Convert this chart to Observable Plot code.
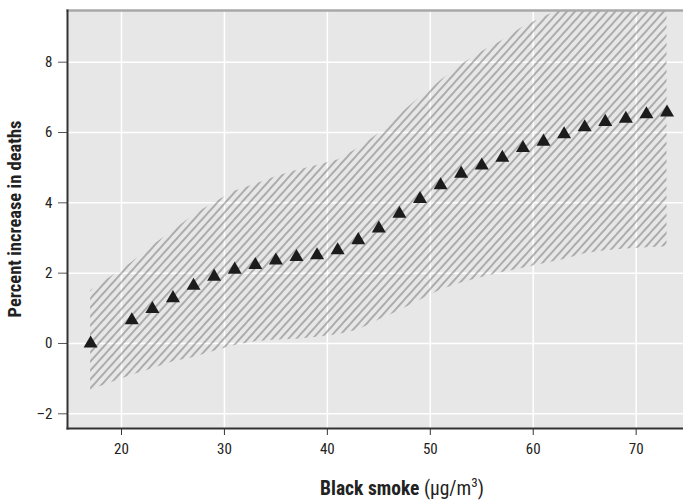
<!DOCTYPE html>
<html><head><meta charset="utf-8">
<script src="https://cdn.jsdelivr.net/npm/d3@7"></script>
<script src="https://cdn.jsdelivr.net/npm/@observablehq/plot@0.6"></script>
<style>body{margin:0;background:#fff;}</style>
</head><body><div id="chart"></div>
<script>
const smoke  = [17, 21, 23, 25, 27, 29, 31, 33, 35, 37, 39, 41, 43, 45, 47, 49, 51, 53, 55, 57, 59, 61, 63, 65, 67, 69, 71, 73];
const effect = [0.0, 0.66, 0.98, 1.29, 1.64, 1.90, 2.10, 2.23, 2.36, 2.46, 2.51, 2.65, 2.94, 3.27, 3.69, 4.11, 4.50, 4.83, 5.06, 5.28, 5.56, 5.74, 5.95, 6.15, 6.30, 6.39, 6.52, 6.57];
const lower  = [-1.32, -0.90, -0.72, -0.52, -0.40, -0.22, -0.06, 0.05, 0.10, 0.12, 0.18, 0.25, 0.38, 0.67, 0.93, 1.23, 1.52, 1.72, 1.88, 2.02, 2.14, 2.27, 2.39, 2.55, 2.64, 2.69, 2.72, 2.75];
const upper  = [1.50, 2.30, 2.78, 3.20, 3.65, 4.00, 4.33, 4.53, 4.74, 4.92, 5.06, 5.22, 5.55, 5.97, 6.50, 7.00, 7.47, 7.93, 8.30, 8.62, 9.00, 9.28, 9.55, 9.85, 10.10, 10.35, 10.60, 10.85];
const xTicks = [20, 30, 40, 50, 60, 70];
const yTicks = [-2, 0, 2, 4, 6, 8];

const data = smoke.map((x, i) => ({x, y: effect[i], lo: lower[i], hi: upper[i]}));
const font = "'Roboto Condensed','Liberation Sans Narrow','Arial Narrow','Liberation Sans',sans-serif";

const plot = Plot.plot({
  width: 683, height: 500,
  marginLeft: 67, marginRight: 0, marginTop: 10, marginBottom: 72,
  style: {fontFamily: font, fontSize: "15px", background: "#fff", color: "#222"},
  x: {domain: [14.754, 74.6]},
  y: {domain: [-2.418, 9.47]},
  marks: [
    Plot.frame({fill: "#e6e7e6", stroke: null}),
    Plot.gridX(xTicks, {stroke: "#fff", strokeOpacity: 1, strokeWidth: 1.5}),
    Plot.gridY(yTicks, {stroke: "#fff", strokeOpacity: 1, strokeWidth: 1.5}),
    Plot.areaY(data, {x: "x", y1: "lo", y2: "hi", fill: "url(#hatch)", clip: true}),
    Plot.dot(data, {x: "x", y: "y", symbol: "triangle", r: 5.2, fill: "#1c1c1c", stroke: null}),
    Plot.axisX(xTicks, {tickSize: 7, tickPadding: 8, label: null, stroke: "#333", fill: "#222"}),
    Plot.axisY(yTicks, {tickSize: 9, tickPadding: 6, label: null, stroke: "#555", fill: "#222", tickFormat: d => d < 0 ? "\u2013" + Math.abs(d) : String(d)}),
    Plot.frame({anchor: "top", stroke: "#a8a8a8", strokeWidth: 2.5}),
    Plot.frame({anchor: "left", stroke: "#333", strokeWidth: 2}),
    Plot.frame({anchor: "bottom", stroke: "#333", strokeWidth: 2})
  ]
});

const svg = d3.select(plot);
svg.insert("defs", ":first-child").html(
  `<pattern id="hatch" patternUnits="userSpaceOnUse" width="12" height="6" patternTransform="rotate(-48)">
     <path d="M-1,3 H13" stroke="#6a6a6a" stroke-width="0.95" fill="none"/>
   </pattern>`);

svg.append("text")
  .attr("transform", "translate(21,219) rotate(-90)")
  .attr("text-anchor", "middle")
  .attr("font-family", font).attr("font-size", 18.5).attr("font-weight", "bold").attr("fill", "#222")
  .text("Percent increase in deaths");

const xt = svg.append("text")
  .attr("x", 402).attr("y", 495)
  .attr("text-anchor", "middle")
  .attr("font-family", font).attr("font-size", 19.5).attr("fill", "#222");
xt.append("tspan").attr("font-weight", "bold").text("Black smoke ");
xt.append("tspan").text("(\u03bcg/m");
xt.append("tspan").attr("font-size", 13).attr("dy", -8).text("3");
xt.append("tspan").attr("dy", 8).text(")");

document.getElementById("chart").append(plot);
</script>
</body></html>
